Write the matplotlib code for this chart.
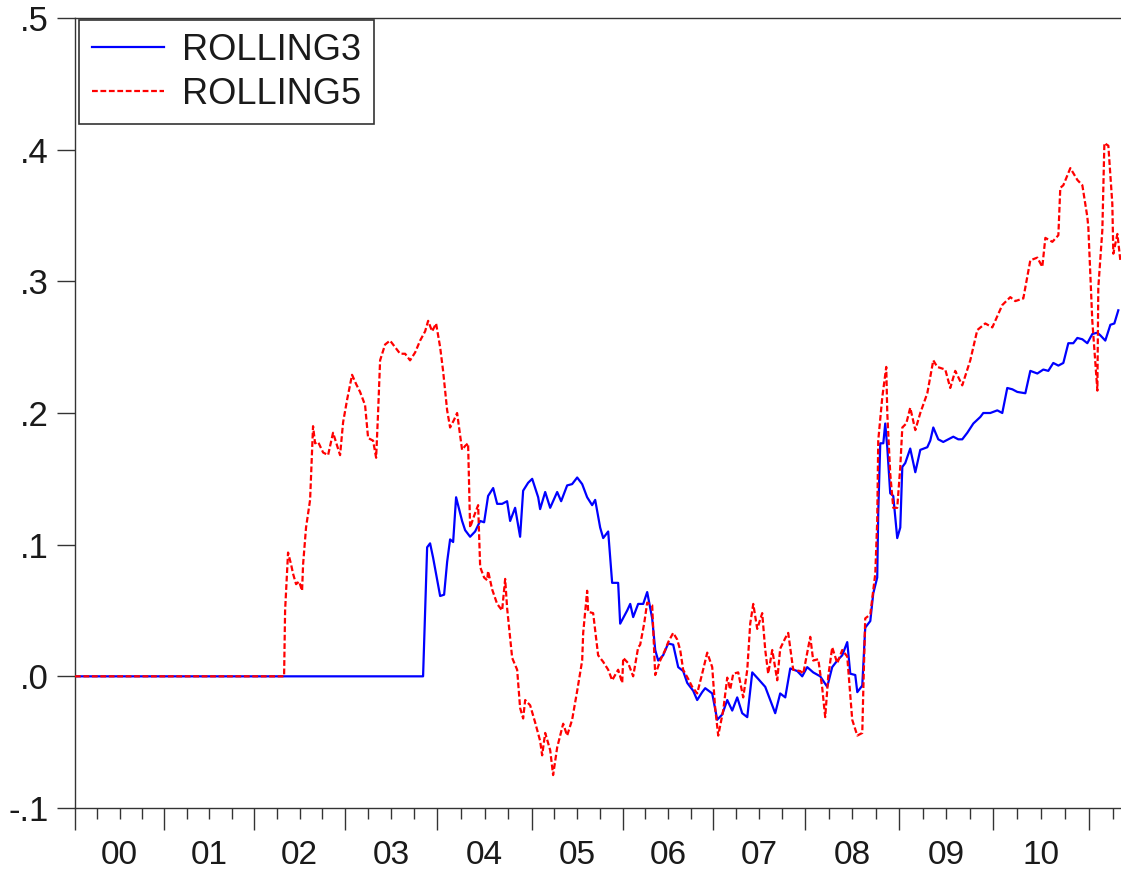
import matplotlib
matplotlib.use("Agg")
import matplotlib.pyplot as plt
import matplotlib.transforms as mtransforms

plt.rcParams['font.family'] = ['Liberation Sans', 'DejaVu Sans']

# ---------------- data ----------------
# x = observation position (EViews plots observations evenly, so years differ in width)
rolling3_t = [2000.000, 2003.774, 2003.818, 2003.850, 2003.883, 2003.959, 2004.002, 2004.035, 2004.067, 2004.100,
              2004.132, 2004.197, 2004.230, 2004.284, 2004.338, 2004.393, 2004.436, 2004.479, 2004.534, 2004.577,
              2004.631, 2004.685, 2004.718, 2004.772, 2004.826, 2004.859, 2004.913, 2004.957, 2005.022, 2005.043,
              2005.098, 2005.152, 2005.228, 2005.271, 2005.336, 2005.390, 2005.445, 2005.499, 2005.553, 2005.607,
              2005.640, 2005.694, 2005.727, 2005.781, 2005.824, 2005.889, 2005.911, 2005.987, 2006.020, 2006.052,
              2006.106, 2006.161, 2006.204, 2006.258, 2006.291, 2006.323, 2006.377, 2006.432, 2006.486, 2006.540,
              2006.594, 2006.638, 2006.703, 2006.746, 2006.800, 2006.833, 2006.909, 2006.963, 2007.017, 2007.072,
              2007.126, 2007.180, 2007.234, 2007.289, 2007.343, 2007.408, 2007.484, 2007.538, 2007.592, 2007.646,
              2007.701, 2007.755, 2007.831, 2007.885, 2007.939, 2008.004, 2008.080, 2008.156, 2008.210, 2008.265,
              2008.319, 2008.373, 2008.406, 2008.460, 2008.482, 2008.536, 2008.568, 2008.623, 2008.655, 2008.698,
              2008.709, 2008.731, 2008.764, 2008.785, 2008.807, 2008.839, 2008.872, 2008.915, 2008.948, 2008.970,
              2009.002, 2009.056, 2009.111, 2009.165, 2009.241, 2009.273, 2009.306, 2009.360, 2009.414, 2009.469,
              2009.523, 2009.577, 2009.620, 2009.675, 2009.740, 2009.816, 2009.848, 2009.924, 2010.000, 2010.054,
              2010.108, 2010.163, 2010.217, 2010.304, 2010.358, 2010.434, 2010.499, 2010.553, 2010.607, 2010.662,
              2010.716, 2010.770, 2010.824, 2010.868, 2010.922, 2010.976, 2011.030, 2011.085, 2011.117, 2011.171,
              2011.226, 2011.269, 2011.312]
rolling3_v = [0.000, 0.000, 0.098, 0.101, 0.090, 0.061, 0.062, 0.087, 0.104, 0.102,
              0.136, 0.118, 0.111, 0.106, 0.110, 0.118, 0.117, 0.137, 0.143, 0.131,
              0.131, 0.133, 0.118, 0.128, 0.106, 0.141, 0.147, 0.150, 0.136, 0.127,
              0.140, 0.128, 0.140, 0.133, 0.145, 0.146, 0.151, 0.146, 0.136, 0.130,
              0.134, 0.113, 0.105, 0.110, 0.071, 0.071, 0.040, 0.050, 0.055, 0.045,
              0.055, 0.055, 0.064, 0.044, 0.020, 0.012, 0.016, 0.025, 0.024, 0.007,
              0.004, -0.005, -0.011, -0.018, -0.012, -0.009, -0.013, -0.033, -0.029, -0.018,
              -0.026, -0.016, -0.028, -0.031, 0.003, -0.002, -0.008, -0.018, -0.028, -0.013,
              -0.016, 0.006, 0.004, 0.000, 0.007, 0.003, 0.000, -0.008, 0.007, 0.012,
              0.016, 0.026, 0.002, 0.001, -0.012, -0.007, 0.037, 0.042, 0.063, 0.075,
              0.124, 0.177, 0.177, 0.192, 0.174, 0.139, 0.137, 0.105, 0.113, 0.159,
              0.162, 0.173, 0.155, 0.172, 0.174, 0.179, 0.189, 0.180, 0.178, 0.180,
              0.182, 0.180, 0.180, 0.185, 0.192, 0.197, 0.200, 0.200, 0.202, 0.200,
              0.219, 0.218, 0.216, 0.215, 0.232, 0.230, 0.233, 0.232, 0.238, 0.236,
              0.238, 0.253, 0.253, 0.257, 0.256, 0.253, 0.260, 0.261, 0.259, 0.255,
              0.267, 0.268, 0.278]

rolling5_t = [2000.000, 2002.267, 2002.278, 2002.310, 2002.343, 2002.364, 2002.397, 2002.430, 2002.462, 2002.473,
              2002.505, 2002.549, 2002.581, 2002.603, 2002.636, 2002.690, 2002.744, 2002.798, 2002.842, 2002.874,
              2002.907, 2002.950, 2003.004, 2003.048, 2003.091, 2003.145, 2003.178, 2003.232, 2003.265, 2003.286,
              2003.308, 2003.362, 2003.416, 2003.471, 2003.525, 2003.579, 2003.633, 2003.688, 2003.742, 2003.796,
              2003.829, 2003.872, 2003.915, 2003.959, 2003.991, 2004.035, 2004.067, 2004.111, 2004.143, 2004.197,
              2004.230, 2004.262, 2004.284, 2004.328, 2004.371, 2004.393, 2004.436, 2004.469, 2004.479, 2004.523,
              2004.577, 2004.631, 2004.664, 2004.685, 2004.740, 2004.794, 2004.826, 2004.859, 2004.881, 2004.935,
              2004.989, 2005.043, 2005.065, 2005.098, 2005.152, 2005.184, 2005.228, 2005.293, 2005.336, 2005.390,
              2005.445, 2005.499, 2005.510, 2005.553, 2005.564, 2005.618, 2005.672, 2005.727, 2005.781, 2005.824,
              2005.889, 2005.933, 2005.944, 2005.998, 2006.052, 2006.106, 2006.128, 2006.171, 2006.204, 2006.258,
              2006.291, 2006.345, 2006.399, 2006.432, 2006.486, 2006.529, 2006.562, 2006.594, 2006.649, 2006.692,
              2006.746, 2006.800, 2006.855, 2006.909, 2006.941, 2006.974, 2007.028, 2007.072, 2007.104, 2007.137,
              2007.191, 2007.245, 2007.289, 2007.321, 2007.354, 2007.397, 2007.451, 2007.484, 2007.516, 2007.560,
              2007.614, 2007.646, 2007.701, 2007.733, 2007.787, 2007.863, 2007.896, 2007.972, 2008.004, 2008.059,
              2008.102, 2008.134, 2008.167, 2008.210, 2008.265, 2008.319, 2008.373, 2008.427, 2008.482, 2008.536,
              2008.547, 2008.568, 2008.623, 2008.677, 2008.698, 2008.709, 2008.753, 2008.796, 2008.807, 2008.839,
              2008.872, 2008.915, 2008.948, 2008.970, 2009.013, 2009.056, 2009.111, 2009.165, 2009.241, 2009.306,
              2009.349, 2009.436, 2009.490, 2009.544, 2009.620, 2009.707, 2009.783, 2009.870, 2009.946, 2010.054,
              2010.141, 2010.195, 2010.282, 2010.358, 2010.434, 2010.488, 2010.521, 2010.597, 2010.662, 2010.683,
              2010.716, 2010.792, 2010.868, 2010.922, 2010.976, 2010.987, 2011.030, 2011.085, 2011.095, 2011.139,
              2011.161, 2011.204, 2011.247, 2011.258, 2011.302, 2011.334]
rolling5_v = [0.000, 0.000, 0.050, 0.094, 0.085, 0.078, 0.070, 0.072, 0.065, 0.085,
              0.113, 0.134, 0.190, 0.177, 0.178, 0.170, 0.168, 0.185, 0.175, 0.168,
              0.193, 0.210, 0.229, 0.222, 0.216, 0.206, 0.181, 0.179, 0.166, 0.200,
              0.240, 0.252, 0.255, 0.250, 0.245, 0.245, 0.240, 0.246, 0.255, 0.262,
              0.270, 0.262, 0.268, 0.250, 0.232, 0.202, 0.189, 0.195, 0.200, 0.172,
              0.175, 0.177, 0.113, 0.122, 0.130, 0.083, 0.075, 0.073, 0.080, 0.066,
              0.055, 0.050, 0.074, 0.052, 0.014, 0.005, -0.024, -0.032, -0.018, -0.022,
              -0.035, -0.049, -0.060, -0.043, -0.056, -0.075, -0.054, -0.036, -0.045, -0.033,
              -0.011, 0.012, 0.033, 0.065, 0.049, 0.048, 0.016, 0.011, 0.005, -0.003,
              0.005, -0.005, 0.014, 0.010, 0.000, 0.022, 0.024, 0.040, 0.056, 0.054,
              0.001, 0.012, 0.020, 0.026, 0.033, 0.028, 0.020, 0.005, -0.002, -0.008,
              -0.013, 0.002, 0.018, 0.007, -0.024, -0.045, -0.026, -0.001, -0.010, 0.002,
              0.003, -0.016, 0.005, 0.040, 0.055, 0.036, 0.048, 0.020, 0.002, 0.020,
              -0.003, 0.021, 0.029, 0.033, 0.005, 0.004, 0.002, 0.030, 0.012, 0.013,
              -0.009, -0.031, 0.000, 0.022, 0.010, 0.020, 0.015, -0.033, -0.045, -0.043,
              -0.011, 0.044, 0.047, 0.078, 0.118, 0.179, 0.212, 0.235, 0.200, 0.154,
              0.128, 0.128, 0.159, 0.189, 0.192, 0.204, 0.187, 0.200, 0.215, 0.240,
              0.235, 0.233, 0.219, 0.232, 0.221, 0.240, 0.263, 0.268, 0.265, 0.282,
              0.288, 0.285, 0.287, 0.316, 0.318, 0.311, 0.333, 0.330, 0.335, 0.371,
              0.373, 0.386, 0.377, 0.373, 0.349, 0.341, 0.270, 0.217, 0.295, 0.339,
              0.405, 0.403, 0.359, 0.321, 0.336, 0.316]

# observation position at which each calendar year starts (2000 ... 2011)
year_start_pos = [2000.000, 2000.965, 2001.944, 2002.927, 2003.928, 2004.952,
                  2005.938, 2006.921, 2007.915, 2008.937, 2009.957, 2010.998]
year_labels = ['00', '01', '02', '03', '04', '05', '06', '07', '08', '09', '10']
y_ticks = [-0.1, 0.0, 0.1, 0.2, 0.3, 0.4, 0.5]
y_tick_labels = ['-.1', '.0', '.1', '.2', '.3', '.4', '.5']

# ---------------- figure ----------------
W, H = 1121, 872
fig = plt.figure(figsize=(W / 100, H / 100), dpi=100)
ax = fig.add_axes([75 / W, 1 - 808 / H, (W - 75) / W, (808 - 18) / H])

ax.plot(rolling3_t, rolling3_v, color='#0000FF', lw=1.6, label='ROLLING3', zorder=2)
ax.plot(rolling5_t, rolling5_v, color='#FF0000', lw=1.6, linestyle=(0, (2.6, 1.2)),
        label='ROLLING5', zorder=3)

x_min = year_start_pos[0]
x_max = x_min + (W - 75) / 92.23

for s in ['left', 'bottom', 'top']:
    ax.spines[s].set_linewidth(1.0)
    ax.spines[s].set_color('#333333')
ax.spines['right'].set_visible(False)

# x ticks: long ticks at year starts, short ticks at quarters
ax.set_xticks(year_start_pos)
ax.set_xticklabels([])
quarters = []
for i, s in enumerate(year_start_pos):
    e = year_start_pos[i + 1] if i + 1 < len(year_start_pos) else s + (s - year_start_pos[i - 1])
    for q in (1, 2, 3):
        p = s + (e - s) * q / 4
        if p < x_max:
            quarters.append(p)
ax.set_xticks(quarters, minor=True)
ax.tick_params(axis='x', which='major', length=16, width=1.0, color='#333333', direction='out')
ax.tick_params(axis='x', which='minor', length=8, width=1.0, color='#333333', direction='out')

ax.set_xlim(x_min, x_max)
ax.set_ylim(-0.1, 0.5)

trans = mtransforms.blended_transform_factory(ax.transData, ax.transAxes)
for i, lab in enumerate(year_labels):
    xc = (year_start_pos[i] + year_start_pos[i + 1]) / 2
    ax.text(xc, -0.0715, lab, transform=trans, ha='center', va='baseline',
            fontsize=24, color='#1a1a1a')

# y ticks
ax.set_yticks(y_ticks)
ax.set_yticklabels(y_tick_labels)
ax.tick_params(axis='y', which='major', length=13, width=1.0, color='#333333',
               direction='out', labelsize=25, pad=6, labelcolor='#1a1a1a')

leg = ax.legend(loc='upper left', bbox_to_anchor=(4 / (W - 75), 1 - 2 / 790),
                fontsize=26, frameon=True, fancybox=False, edgecolor='black',
                handlelength=2.0, handletextpad=0.5, borderpad=0.35,
                labelspacing=0.25, borderaxespad=0)
leg.get_frame().set_linewidth(1.2)
for t in leg.get_texts():
    t.set_color('#1a1a1a')

fig.savefig('out.png', dpi=100, facecolor='white')
